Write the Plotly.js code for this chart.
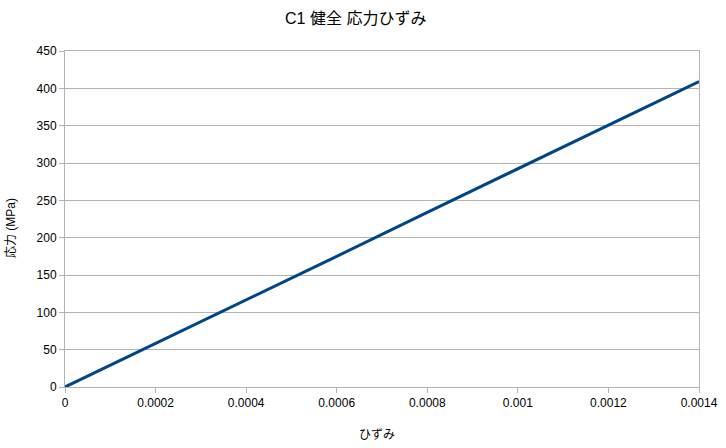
<!DOCTYPE html>
<html><head><meta charset="utf-8">
<script src="https://cdn.plot.ly/plotly-3.0.1.min.js"></script>
<style>html,body{margin:0;padding:0;background:#fff}#c{width:726px;height:448px}</style>
</head><body><div id="c"></div>
<script>
const strain = [0, 0.0002, 0.0004, 0.0006, 0.0008, 0.0010, 0.0012, 0.0014];
const stress = [0, 58, 117, 175, 234, 292, 351, 409];
const xTicks = [0, 0.0002, 0.0004, 0.0006, 0.0008, 0.001, 0.0012, 0.0014];
const xTickText = ['0', '0.0002', '0.0004', '0.0006', '0.0008', '0.001', '0.0012', '0.0014'];
const yTicks = [0, 50, 100, 150, 200, 250, 300, 350, 400, 450];

const font = "'Liberation Sans', 'Noto Sans CJK JP', sans-serif";
Plotly.newPlot('c', [{
  x: strain, y: stress, type: 'scatter', mode: 'lines',
  line: {color: '#004586', width: 3}, hoverinfo: 'skip'
}], {
  width: 726, height: 448,
  margin: {l: 65, r: 27, t: 51, b: 61},
  paper_bgcolor: '#fff', plot_bgcolor: '#fff',
  font: {family: font, size: 12, color: '#000'},
  title: {text: 'C1 健全 応力ひずみ', font: {family: font, size: 16, color: '#000'}, xref: 'container', x: 0.490, xanchor: 'center', y: 0.960, yanchor: 'middle'},
  showlegend: false,
  xaxis: {
    range: [0, 0.0014], tickvals: xTicks, ticktext: xTickText,
    showgrid: false,
    showline: true, linecolor: '#b3b3b3', linewidth: 1, mirror: true,
    ticks: 'outside', ticklen: 5, tickcolor: '#b3b3b3',
    zeroline: false, tickfont: {size: 12, color: '#000'}
  },
  yaxis: {
    range: [0, 450], tickvals: yTicks,
    showgrid: true, gridcolor: '#b3b3b3', gridwidth: 1,
    showline: true, linecolor: '#b3b3b3', linewidth: 1, mirror: true,
    ticks: 'outside', ticklen: 5, tickcolor: '#b3b3b3',
    zeroline: false, tickfont: {size: 12, color: '#000'}
  },
  annotations: [
    {text: 'ひずみ', xref: 'paper', yref: 'paper', x: 0.492, y: -0.143, xanchor: 'center', yanchor: 'middle', showarrow: false, font: {size: 12, color: '#000'}},
    {text: '応力 (MPa)', xref: 'paper', yref: 'paper', x: -0.0852, y: 0.473, xanchor: 'center', yanchor: 'middle', textangle: -90, showarrow: false, font: {size: 12, color: '#000'}}
  ]
}, {staticPlot: true, displayModeBar: false});
</script></body></html>
